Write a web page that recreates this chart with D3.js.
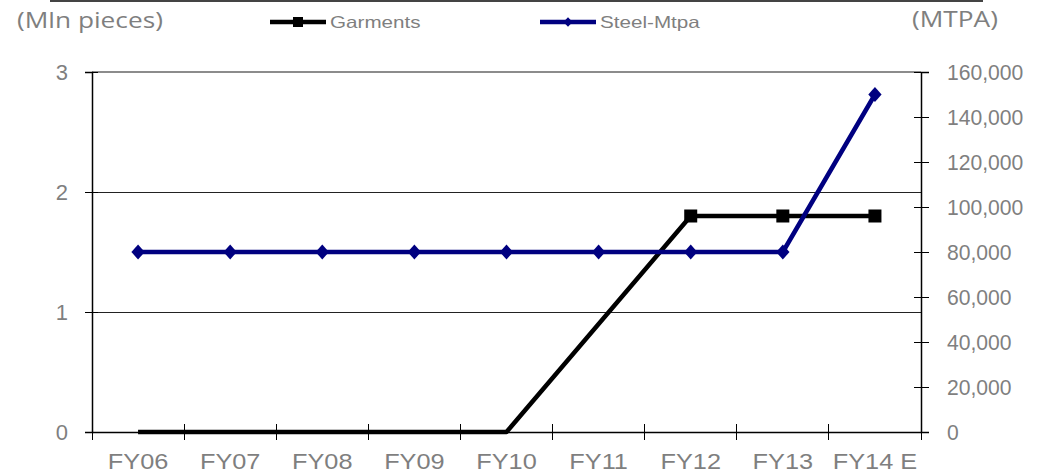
<!DOCTYPE html>
<html>
<head>
<meta charset="utf-8">
<script src="https://cdn.jsdelivr.net/npm/d3@7"></script>
<style>
  html, body { margin: 0; padding: 0; background: #fff; }
  svg { display: block; }
</style>
</head>
<body>
<svg id="chart" width="1047" height="476"></svg>
<script>
// ---- data ----
const categories = ["FY06", "FY07", "FY08", "FY09", "FY10", "FY11", "FY12", "FY13", "FY14 E"];
const garments = [0, 0, 0, 0, 0, null, 1.8, 1.8, 1.8];          // Mln pieces (left axis)
const steel = [80000, 80000, 80000, 80000, 80000, 80000, 80000, 80000, 150000]; // MTPA (right axis)
const leftTicks = [0, 1, 2, 3];
const rightTicks = [0, 20000, 40000, 60000, 80000, 100000, 120000, 140000, 160000];
const seriesNames = ["Garments", "Steel-Mtpa"];
const leftTitle = "(Mln pieces)";
const rightTitle = "(MTPA)";

// ---- layout ----
const L = 92, R = 921, T = 72, B = 432;
const textGray = "#7f7f7f";
const navy = "#000080";

const svg = d3.select("#chart");

const x = d3.scaleBand().domain(categories).range([L, R]).padding(0);
const yL = d3.scaleLinear().domain([0, 3]).range([B, T]);
const yR = d3.scaleLinear().domain([0, 160000]).range([B, T]);
const cx = c => x(c) + x.bandwidth() / 2;

// top decorative rule
svg.append("line").attr("x1", 50).attr("x2", 983).attr("y1", 1).attr("y2", 1)
  .attr("stroke", "#444").attr("stroke-width", 2);

// gridlines
svg.append("g").attr("shape-rendering", "crispEdges")
  .selectAll("line").data(leftTicks.filter(d => d > 0 && d < 3)).join("line")
  .attr("x1", L - 7).attr("x2", R).attr("y1", d => yL(d)).attr("y2", d => yL(d))
  .attr("stroke", "#222").attr("stroke-width", 1);
svg.append("line").attr("x1", L).attr("x2", R).attr("y1", yL(3)).attr("y2", yL(3))
  .attr("stroke", "#8c8c8c").attr("stroke-width", 2.2);

const tickFont = "22px 'Liberation Sans', Arial, sans-serif";

// left axis
const gL = svg.append("g").attr("transform", `translate(${L},0)`)
  .call(d3.axisLeft(yL).tickValues(leftTicks).tickSize(7).tickPadding(17).tickFormat(d3.format("d")));
gL.select(".domain").attr("stroke", "#000").attr("stroke-width", 1.5);
gL.selectAll(".tick line").attr("x1", 6).attr("stroke", "#000").attr("stroke-width", 1).attr("shape-rendering", "crispEdges");
gL.selectAll(".tick text").attr("fill", textGray).style("font", tickFont).attr("data-stretch", 1);

// right axis
const gR = svg.append("g").attr("transform", `translate(${R},0)`)
  .call(d3.axisRight(yR).tickValues(rightTicks).tickSize(8).tickPadding(18).tickFormat(d3.format(",")));
gR.select(".domain").attr("stroke", "#000").attr("stroke-width", 1.5);
gR.selectAll(".tick line").attr("x1", -7).attr("stroke", "#000").attr("stroke-width", 1).attr("shape-rendering", "crispEdges");
gR.selectAll(".tick text").attr("fill", textGray).style("font", tickFont).attr("data-stretch", 0.96);

// bottom axis (labels at centers, ticks at band boundaries)
const gB = svg.append("g").attr("transform", `translate(0,${B})`)
  .call(d3.axisBottom(x).tickSize(0).tickPadding(21));
gB.select(".domain").attr("stroke", "#000").attr("stroke-width", 1.5);
gB.selectAll(".tick text").attr("fill", textGray).style("font", tickFont).attr("data-stretch", 1.15);
const boundaries = categories.map(c => x(c)).concat([R]);
svg.append("g").attr("shape-rendering", "crispEdges")
  .selectAll("line").data(boundaries).join("line")
  .attr("x1", d => d).attr("x2", d => d).attr("y1", B - 8).attr("y2", B + 8)
  .attr("stroke", "#000").attr("stroke-width", 1);

// garments line
const gPts = categories.map((c, i) => ({ c, v: garments[i] })).filter(d => d.v !== null);
svg.append("path").datum(gPts)
  .attr("fill", "none").attr("stroke", "#000").attr("stroke-width", 4.5).attr("stroke-linejoin", "round")
  .attr("d", d3.line().x(d => cx(d.c)).y(d => yL(d.v)));
svg.append("g").selectAll("rect").data(gPts.filter(d => d.v > 0)).join("rect")
  .attr("x", d => cx(d.c) - 6.5).attr("y", d => yL(d.v) - 6.5)
  .attr("width", 13).attr("height", 13).attr("fill", "#000");

// steel line
const sPts = categories.map((c, i) => ({ c, v: steel[i] }));
svg.append("path").datum(sPts)
  .attr("fill", "none").attr("stroke", navy).attr("stroke-width", 4.5).attr("stroke-linejoin", "round")
  .attr("d", d3.line().x(d => cx(d.c)).y(d => yR(d.v)));
const dType = d3.symbolDiamond2 || d3.symbolDiamond;
const diamond = d3.symbol().type(dType).size(d3.symbolDiamond2 ? 125 : 75);
svg.append("g").selectAll("path").data(sPts).join("path")
  .attr("transform", d => `translate(${cx(d.c)},${yR(d.v)}) scale(0.95,1.08)`)
  .attr("d", diamond).attr("fill", navy);

// axis titles
svg.append("text").attr("x", 17).attr("y", 28).text(leftTitle)
  .attr("fill", textGray).style("font", "21px 'Open Sans', sans-serif").attr("data-stretch", 1.25);
svg.append("text").attr("x", 912).attr("y", 27).text(rightTitle)
  .attr("fill", textGray).style("font", "21px 'Open Sans', sans-serif").attr("data-stretch", 1.25);

// legend
const legendPos = [270, 540];
const leg = svg.append("g").selectAll("g").data(seriesNames).join("g")
  .attr("transform", (d, i) => `translate(${legendPos[i]},22)`);
leg.append("line").attr("x1", 0).attr("x2", 56).attr("y1", 0).attr("y2", 0)
  .attr("stroke", (d, i) => i === 0 ? "#000" : navy).attr("stroke-width", 4.5);
leg.filter((d, i) => i === 0).append("rect").attr("x", 23).attr("y", -5).attr("width", 10).attr("height", 10).attr("fill", "#000");
leg.filter((d, i) => i === 1).append("path").attr("transform", "translate(28,0)")
  .attr("d", d3.symbol().type(dType).size(d3.symbolDiamond2 ? 55 : 40)).attr("fill", navy);
leg.append("text").attr("x", 60).attr("y", 6).text(d => d)
  .attr("fill", textGray).style("font", "16.5px 'Liberation Sans', Arial, sans-serif").attr("data-stretch", 1.25);

// horizontal stretch of text to match the reference's widened lettering
svg.selectAll("text[data-stretch]").each(function () {
  const s = +this.getAttribute("data-stretch");
  if (s === 1) return;
  const len = this.getComputedTextLength();
  d3.select(this).attr("textLength", len * s).attr("lengthAdjust", "spacingAndGlyphs");
});
</script>
</body>
</html>
